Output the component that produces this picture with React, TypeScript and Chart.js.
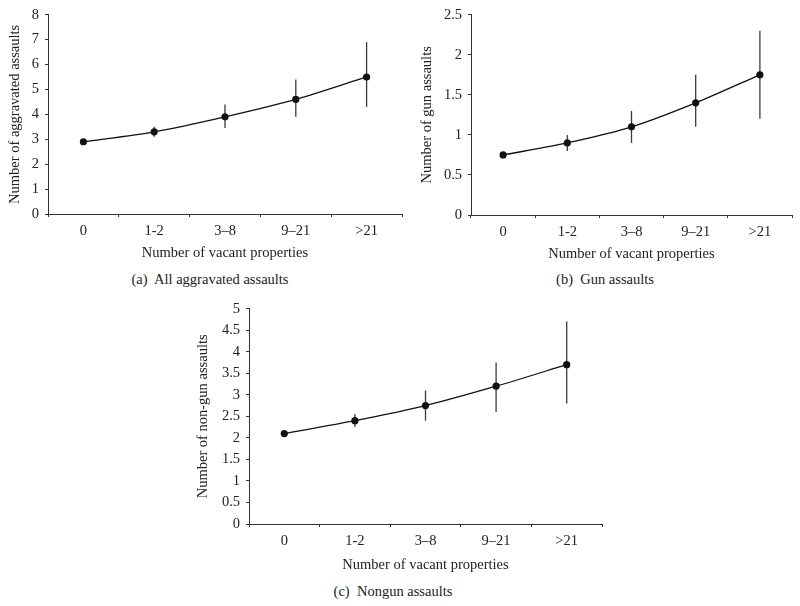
import React, { useEffect, useRef } from "react";
import { Chart, registerables } from "chart.js";

Chart.register(...registerables);

const categories = ["0", "1-2", "3–8", "9–21", ">21"];

const aggMean = [2.9, 3.3, 3.9, 4.6, 5.5];
const aggLow = [2.86, 3.1, 3.45, 3.9, 4.3];
const aggHigh = [2.94, 3.5, 4.4, 5.4, 6.9];

const gunMean = [0.75, 0.9, 1.1, 1.4, 1.75];
const gunLow = [0.74, 0.8, 0.9, 1.1, 1.2];
const gunHigh = [0.76, 1.0, 1.3, 1.75, 2.3];

const nongunMean = [2.1, 2.4, 2.75, 3.2, 3.7];
const nongunLow = [2.08, 2.25, 2.4, 2.6, 2.8];
const nongunHigh = [2.12, 2.55, 3.1, 3.75, 4.7];

const FONT = "'Liberation Serif', 'Times New Roman', serif";
const TEXT = "#222";
const AXIS = "#333";

const errorBarPlugin = {
  id: "errorBars",
  beforeDatasetsDraw(chart: any) {
    const { ctx, scales } = chart;
    const xs = scales.x;
    const ys = scales.y;
    chart.data.datasets.forEach((ds: any) => {
      if (!ds.errLow) return;
      ctx.save();
      ctx.strokeStyle = "#3a3a3a";
      ctx.lineWidth = 1.3;
      ds.errLow.forEach((lo: number, i: number) => {
        const px = xs.getPixelForValue(i);
        ctx.beginPath();
        ctx.moveTo(px, ys.getPixelForValue(lo));
        ctx.lineTo(px, ys.getPixelForValue(ds.errHigh[i]));
        ctx.stroke();
      });
      ctx.restore();
    });
  },
};

type PanelProps = {
  left: number;
  top: number;
  width: number;
  height: number;
  yWidth: number;
  xHeight: number;
  padTop: number;
  padRight: number;
  yTitlePad: number;
  yMax: number;
  yStep: number;
  yTitle: string;
  mean: number[];
  low: number[];
  high: number[];
};

function Panel(p: PanelProps) {
  const ref = useRef<HTMLCanvasElement | null>(null);
  useEffect(() => {
    if (!ref.current) return;
    const chart = new Chart(ref.current, {
      type: "line",
      data: {
        labels: categories,
        datasets: [
          {
            data: p.mean,
            borderColor: "#111",
            borderWidth: 1.3,
            backgroundColor: "#111",
            pointRadius: 3.6,
            pointBorderWidth: 0,
            pointBackgroundColor: "#111",
            tension: 0.3,
            fill: false,
            errLow: p.low,
            errHigh: p.high,
          } as any,
        ],
      },
      options: {
        responsive: false,
        animation: false,
        events: [],
        layout: { padding: { top: p.padTop, right: p.padRight, left: 0, bottom: 0 } },
        plugins: {
          legend: { display: false },
          tooltip: { enabled: false },
          title: { display: false },
        },
        scales: {
          x: {
            type: "category",
            offset: true,
            grid: {
              display: true,
              drawOnChartArea: false,
              drawTicks: true,
              tickLength: 3,
              offset: true,
              color: AXIS,
            },
            border: { display: true, color: AXIS, width: 1 },
            ticks: {
              color: TEXT,
              padding: 5,
              maxRotation: 0,
              font: { family: FONT, size: 14.5 },
            },
            title: {
              display: true,
              text: "Number of vacant properties",
              color: TEXT,
              padding: { top: 0, bottom: 0 },
              font: { family: FONT, size: 14.5 },
            },
            afterFit: (s: any) => {
              s.height = p.xHeight;
            },
          },
          y: {
            min: 0,
            max: p.yMax,
            grid: {
              display: true,
              drawOnChartArea: false,
              drawTicks: true,
              tickLength: 3,
              color: AXIS,
            },
            border: { display: true, color: AXIS, width: 1 },
            ticks: {
              stepSize: p.yStep,
              color: TEXT,
              padding: 6,
              font: { family: FONT, size: 14.5 },
              callback: (v: any) => String(Math.round(Number(v) * 10) / 10),
            },
            title: {
              display: true,
              text: p.yTitle,
              color: TEXT,
              padding: { top: p.yTitlePad, bottom: 0 },
              font: { family: FONT, size: 14.5 },
            },
            afterFit: (s: any) => {
              s.width = p.yWidth;
            },
          },
        },
      } as any,
      plugins: [errorBarPlugin],
    });
    return () => chart.destroy();
  }, []);
  return (
    <canvas
      ref={ref}
      width={p.width}
      height={p.height}
      style={{
        position: "absolute",
        left: p.left,
        top: p.top,
        width: p.width,
        height: p.height,
        display: "block",
      }}
    />
  );
}

function Caption({ text, x, y }: { text: string; x: number; y: number }) {
  return (
    <div
      style={{
        position: "absolute",
        left: x,
        top: y - 9,
        transform: "translateX(-50%)",
        fontFamily: FONT,
        fontSize: 14.5,
        lineHeight: "18px",
        color: TEXT,
        whiteSpace: "pre",
      }}
    >
      {text}
    </div>
  );
}

export default function App() {
  return (
    <div
      style={{
        position: "fixed",
        left: 0,
        top: 0,
        width: 800,
        height: 606,
        background: "#fff",
        overflow: "hidden",
      }}
    >
      <Panel
        left={0}
        top={0}
        width={406}
        height={262}
        yWidth={48}
        xHeight={48}
        padTop={13}
        padRight={4}
        yTitlePad={6}
        yMax={8}
        yStep={1}
        yTitle="Number of aggravated assaults"
        mean={aggMean}
        low={aggLow}
        high={aggHigh}
      />
      <Panel
        left={412}
        top={0}
        width={388}
        height={263}
        yWidth={59}
        xHeight={48}
        padTop={13}
        padRight={8}
        yTitlePad={6}
        yMax={2.5}
        yStep={0.5}
        yTitle="Number of gun assaults"
        mean={gunMean}
        low={gunLow}
        high={gunHigh}
      />
      <Panel
        left={188}
        top={294}
        width={418}
        height={280}
        yWidth={61}
        xHeight={50}
        padTop={13}
        padRight={3}
        yTitlePad={6.5}
        yMax={5}
        yStep={0.5}
        yTitle="Number of non-gun assaults"
        mean={nongunMean}
        low={nongunLow}
        high={nongunHigh}
      />
      <Caption text="(a)  All aggravated assaults" x={210} y={279} />
      <Caption text="(b)  Gun assaults" x={605} y={279} />
      <Caption text="(c)  Nongun assaults" x={393} y={591} />
    </div>
  );
}
